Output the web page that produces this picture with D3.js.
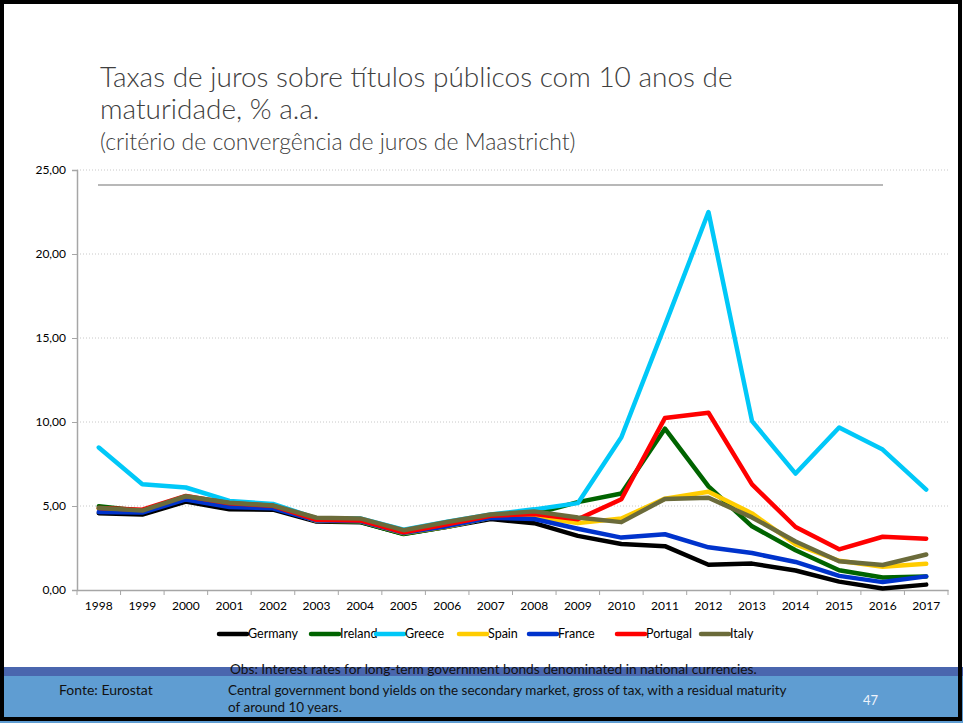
<!DOCTYPE html>
<html>
<head>
<meta charset="utf-8">
<script src="https://cdn.jsdelivr.net/npm/d3@7"></script>
<style>
  body { margin: 0; background: #fff; }
  svg text { font-family: Lato, "Open Sans", sans-serif; }
</style>
</head>
<body>
<div id="chart"></div>
<script>
// data (Eurostat, 10y government bond yields)
let years = d3.range(1998, 2018);
let countries = ["Germany", "Ireland", "Greece", "Spain", "France", "Portugal", "Italy"];
let colors = ["#000000", "#006400", "#00c8f8", "#ffcc00", "#0033cc", "#ff0000", "#6b6b3a"];

let germany  = [4.57, 4.49, 5.26, 4.80, 4.78, 4.07, 4.04, 3.35, 3.76, 4.22, 3.98, 3.22, 2.74, 2.61, 1.50, 1.57, 1.16, 0.50, 0.09, 0.32];
let ireland  = [4.99, 4.71, 5.51, 5.01, 5.01, 4.13, 4.06, 3.33, 3.76, 4.31, 4.53, 5.23, 5.74, 9.60, 6.17, 3.79, 2.37, 1.18, 0.74, 0.80];
let greece   = [8.48, 6.30, 6.10, 5.30, 5.12, 4.27, 4.26, 3.59, 4.07, 4.50, 4.80, 5.17, 9.09, 15.75, 22.50, 10.05, 6.93, 9.67, 8.36, 5.98];
let spain    = [4.83, 4.73, 5.53, 5.12, 4.96, 4.12, 4.10, 3.39, 3.78, 4.31, 4.36, 3.98, 4.25, 5.44, 5.85, 4.56, 2.72, 1.74, 1.39, 1.56];
let france   = [4.64, 4.61, 5.39, 4.94, 4.86, 4.13, 4.10, 3.41, 3.80, 4.30, 4.23, 3.65, 3.12, 3.32, 2.54, 2.20, 1.67, 0.84, 0.47, 0.81];
let portugal = [4.88, 4.78, 5.60, 5.16, 5.01, 4.18, 4.14, 3.44, 3.91, 4.42, 4.52, 4.21, 5.40, 10.24, 10.55, 6.29, 3.75, 2.42, 3.17, 3.05];
let italy    = [4.88, 4.73, 5.58, 5.19, 5.03, 4.30, 4.26, 3.56, 4.05, 4.49, 4.68, 4.31, 4.04, 5.42, 5.49, 4.32, 2.89, 1.71, 1.49, 2.11];

let yTicks = [0, 5, 10, 15, 20, 25];

let series = [germany, ireland, greece, spain, france, portugal, italy].map(function(vals, i) {
    return { name: countries[i], color: colors[i], values: vals };
});

let W = 963, H = 723;
let svg = d3.select("#chart").append("svg")
    .attr("width", W)
    .attr("height", H);

svg.append("rect").attr("width", W).attr("height", H).attr("fill", "#fff");

// title
svg.append("text")
    .attr("x", 100).attr("y", 87)
    .attr("font-size", 28).attr("font-weight", 300)
    .attr("fill", "#404040")
    .text("Taxas de juros sobre títulos públicos com 10 anos de");
svg.append("text")
    .attr("x", 100).attr("y", 119)
    .attr("font-size", 28).attr("font-weight", 300)
    .attr("fill", "#404040")
    .text("maturidade, % a.a.");
svg.append("text")
    .attr("x", 100).attr("y", 150)
    .attr("font-size", 23).attr("font-weight", 300)
    .attr("fill", "#404040")
    .text("(critério de convergência de juros de Maastricht)");

// scales
let x = d3.scaleBand()
    .domain(years)
    .range([77, 948])
    .padding(0);
let y = d3.scaleLinear()
    .domain([0, 25])
    .range([590, 170]);

// gridlines
svg.append("g")
    .selectAll("line")
    .data(yTicks.filter(function(d) { return d > 0; }))
    .enter()
    .append("line")
    .attr("x1", 77).attr("x2", 948)
    .attr("y1", function(d) { return y(d); })
    .attr("y2", function(d) { return y(d); })
    .attr("stroke", "#c8c8c8")
    .attr("stroke-dasharray", "1,2");

// decorative line under the title
svg.append("line")
    .attr("x1", 98).attr("x2", 883)
    .attr("y1", 185).attr("y2", 185)
    .attr("stroke", "#a0a0a0").attr("stroke-width", 1.5);

// y axis
let yAxis = svg.append("g")
    .attr("transform", "translate(77,0)")
    .call(d3.axisLeft(y).tickValues(yTicks).tickSize(5)
        .tickFormat(function(d) { return d3.format(".2f")(d).replace(".", ","); }));
yAxis.select(".domain").attr("stroke", "#a6a6a6").attr("stroke-width", 1.5);
yAxis.selectAll(".tick line").attr("stroke", "#a6a6a6");
yAxis.selectAll(".tick text").attr("font-size", 12).attr("fill", "#000").attr("x", -11)
    .style("font-family", "Lato, sans-serif");

// x axis
let xAxis = svg.append("g")
    .attr("transform", "translate(0,590)")
    .call(d3.axisBottom(x).tickSize(0).tickPadding(11));
xAxis.select(".domain").attr("stroke", "#a6a6a6").attr("stroke-width", 1.5);
xAxis.selectAll(".tick text").attr("font-size", 12).attr("fill", "#000")
    .style("font-family", "Lato, sans-serif");
// tick marks between categories
xAxis.selectAll(".sep")
    .data(years.concat([null]))
    .enter()
    .append("line")
    .attr("x1", function(d, i) { return 77 + i * x.step(); })
    .attr("x2", function(d, i) { return 77 + i * x.step(); })
    .attr("y1", 0).attr("y2", 5)
    .attr("stroke", "#a6a6a6");

// lines
let line = d3.line()
    .x(function(d, i) { return x(years[i]) + x.bandwidth() / 2; })
    .y(function(d) { return y(d); });

svg.append("g")
    .selectAll("path")
    .data(series)
    .enter()
    .append("path")
    .attr("d", function(d) { return line(d.values); })
    .attr("fill", "none")
    .attr("stroke", function(d) { return d.color; })
    .attr("stroke-width", 4.5)
    .attr("stroke-linejoin", "round")
    .attr("stroke-linecap", "round");

// legend
let legendX = [218, 310, 375, 458, 528, 616, 700];
let legend = svg.append("g")
    .selectAll("g")
    .data(series)
    .enter()
    .append("g")
    .attr("transform", function(d, i) { return "translate(" + legendX[i] + ",634)"; });
legend.append("line")
    .attr("x1", 1).attr("x2", 29)
    .attr("stroke", function(d) { return d.color; })
    .attr("stroke-width", 4.5)
    .attr("stroke-linecap", "round");
legend.append("text")
    .attr("x", 30).attr("y", 4)
    .attr("font-size", 12.5)
    .text(function(d) { return d.name; });

// footer
svg.append("rect").attr("x", 0).attr("y", 667).attr("width", W).attr("height", 9).attr("fill", "#4a66ae");
svg.append("rect").attr("x", 0).attr("y", 676).attr("width", W).attr("height", 47).attr("fill", "#5f9dd2");
svg.append("text")
    .attr("x", 230).attr("y", 674).attr("font-size", 13.7).attr("fill", "#111")
    .text("Obs: Interest rates for long-term government bonds denominated in national currencies.");
svg.append("text")
    .attr("x", 59).attr("y", 695).attr("font-size", 14).attr("fill", "#111")
    .text("Fonte: Eurostat");
svg.append("text")
    .attr("x", 228).attr("y", 695).attr("font-size", 13.5).attr("fill", "#111")
    .text("Central government bond yields on the secondary market, gross of tax, with a residual maturity");
svg.append("text")
    .attr("x", 228).attr("y", 712).attr("font-size", 13.5).attr("fill", "#111")
    .text("of around 10 years.");
svg.append("text")
    .attr("x", 863).attr("y", 705).attr("font-size", 13).attr("fill", "#eef3fb")
    .text("47");

// slide frame
svg.append("rect")
    .attr("x", 2).attr("y", 2).attr("width", 958).attr("height", 717)
    .attr("fill", "none").attr("stroke", "#000").attr("stroke-width", 4);
</script>
</body>
</html>
